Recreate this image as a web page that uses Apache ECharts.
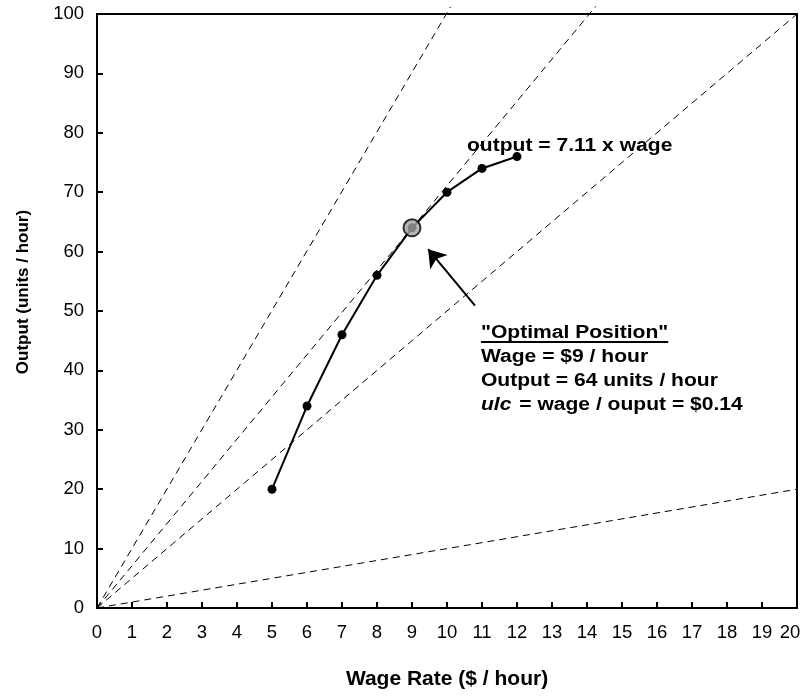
<!DOCTYPE html>
<html><head><meta charset="utf-8">
<script src="https://cdn.jsdelivr.net/npm/echarts@6/dist/echarts.min.js"></script>
<style>html,body{margin:0;padding:0;background:#fff}#c{width:804px;height:698px}</style>
</head><body><div id="c"></div>
<script>
const wages = [5, 6, 7, 8, 9, 10, 11, 12];
const outputs = [20, 34, 46, 56, 64, 70, 74, 76];
const optimal = [9, 64];
const rayEnds = [[10.1, 101.2], [14.25, 101.3], [20.1, 100.5], [20.2, 20.2]];
const arrowFrom = [10.8, 50.9];
const arrowTo = [9.46, 60.4];
const rayLabel = 'output = 7.11 x wage';
const rayLabelAt = [10.57, 77.7];
const noteAt = [10.97, 46.3];
const noteTitle = '"Optimal Position"';
const noteLines = ['Wage = $9 / hour', 'Output = 64 units / hour'];
const noteUlc = ['ulc', ' = wage / ouput = $0.14'];
const xTicks = [0, 20, 1];
const yTicks = [0, 100, 10];
const xTitle = 'Wage Rate ($ / hour)';
const yTitle = 'Output (units / hour)';

const FONT = 'Arial, "Liberation Sans", sans-serif';
const chart = echarts.init(document.getElementById('c'), null, {renderer: 'canvas'});

const series = [];
rayEnds.forEach((e) => {
  series.push({
    type: 'line', data: [[0, 0], e], symbol: 'none', clip: false, silent: true,
    lineStyle: {color: '#000', width: 1, type: [7, 5]}, z: 2
  });
});
series.push({
  type: 'line', data: wages.map((w, i) => [w, outputs[i]]),
  symbol: 'circle', symbolSize: 9, itemStyle: {color: '#000'},
  lineStyle: {color: '#000', width: 2}, z: 3
});
series.push({
  type: 'scatter', data: [optimal], symbolSize: 17,
  itemStyle: {color: '#a3a3a3', borderColor: '#000', borderWidth: 2}, z: 4
});
series.push({
  type: 'lines', coordinateSystem: 'cartesian2d',
  data: [{coords: [arrowFrom, arrowTo]}],
  symbol: ['none', 'arrow'], symbolSize: [13, 17],
  lineStyle: {color: '#000', width: 2, opacity: 1}, z: 5
});

chart.setOption({
  animation: false,
  grid: {left: 97, right: 7, top: 14, bottom: 90, show: true, borderColor: '#000', borderWidth: 2,
         containLabel: false, outerBoundsMode: 'none'},
  xAxis: {
    type: 'value', min: xTicks[0], max: xTicks[1], interval: xTicks[2],
    name: xTitle, nameLocation: 'middle', nameGap: 61,
    nameTextStyle: {fontFamily: FONT, fontWeight: 'bold', fontSize: 21, color: '#000'},
    axisLine: {lineStyle: {color: '#000', width: 2}},
    axisTick: {inside: true, length: 6, lineStyle: {color: '#000', width: 2}},
    axisLabel: {fontFamily: FONT, fontSize: 18.5, color: '#000', margin: 15,
      formatter: (v) => v === xTicks[1] ? '{m|' + v + '}' : String(v),
      rich: {m: {fontFamily: FONT, fontSize: 18.5, color: '#000', padding: [0, 14, 0, 0]}}},
    splitLine: {show: false}
  },
  yAxis: {
    type: 'value', min: yTicks[0], max: yTicks[1], interval: yTicks[2],
    axisLine: {lineStyle: {color: '#000', width: 2}},
    axisTick: {inside: true, length: 6, lineStyle: {color: '#000', width: 2}},
    axisLabel: {fontFamily: FONT, fontSize: 18.5, color: '#000', margin: 13},
    splitLine: {show: false}
  },
  series: series
});

function px(p) { return chart.convertToPixel({gridIndex: 0}, p); }
const NFS = 18, SX = 1.17, LH = 24;
const bold = 'bold ' + NFS + 'px ' + FONT;
const it = 'italic bold ' + NFS + 'px ' + FONT;
const ctx = document.createElement('canvas').getContext('2d');
ctx.font = bold;
const titleW = ctx.measureText(noteTitle).width * SX;
ctx.font = it;
const ulcW = ctx.measureText(noteUlc[0]).width * SX;
const rl = px(rayLabelAt), na = px(noteAt);
function txt(x, y, t, f) {
  return {type: 'text', x: x, y: y, scaleX: SX, style: {text: t, font: f, fill: '#000', textVerticalAlign: 'middle'}};
}
const g = [];
g.push({type: 'text', x: 23, y: 292, rotation: Math.PI / 2,
  style: {text: yTitle, font: 'bold 17px ' + FONT, fill: '#000', textAlign: 'center', textVerticalAlign: 'middle'}});
g.push(txt(rl[0], rl[1], rayLabel, bold));
g.push(txt(na[0], na[1], noteTitle, bold));
g.push({type: 'line', shape: {x1: na[0], y1: na[1] + 9, x2: na[0] + titleW, y2: na[1] + 9}, style: {stroke: '#000', lineWidth: 2}});
noteLines.forEach((t, i) => g.push(txt(na[0], na[1] + LH * (i + 1), t, bold)));
g.push(txt(na[0], na[1] + LH * 3, noteUlc[0], it));
g.push(txt(na[0] + ulcW + 2, na[1] + LH * 3, noteUlc[1], bold));
chart.setOption({graphic: g});
</script></body></html>
